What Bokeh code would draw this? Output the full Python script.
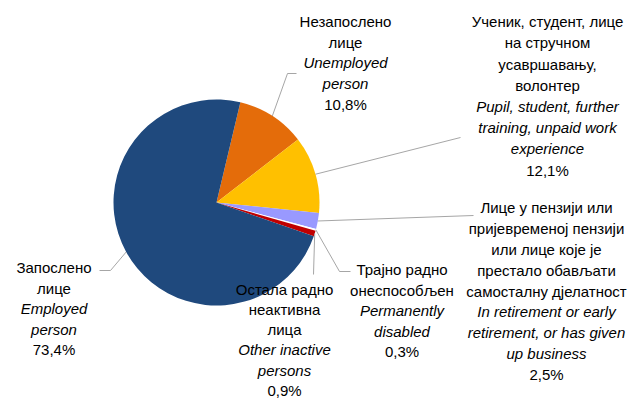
import math
from bokeh.plotting import figure
from bokeh.models import Range1d
from bokeh.core.properties import value
from bokeh.embed import file_html
from bokeh.resources import INLINE

# ---------------- data ----------------
categories_sr = [
    ["Незапослено", "лице"],
    ["Ученик, студент, лице", "на стручном", "усавршавању,", "волонтер"],
    ["Лице у пензији или", "пријевременој пензији", "или лице које је",
     "престало обављати", "самосталну дјелатност"],
    ["Трајно радно", "онеспособљен"],
    ["Остала радно", "неактивна", "лица"],
    ["Запослено", "лице"],
]
categories_en = [
    ["Unemployed", "person"],
    ["Pupil, student, further", "training, unpaid work", "experience"],
    ["In retirement or early", "retirement, or has given", "up business"],
    ["Permanently", "disabled"],
    ["Other inactive", "persons"],
    ["Employed", "person"],
]
shares = [10.8, 12.1, 2.5, 0.3, 0.9, 73.4]
pct_labels = ["10,8%", "12,1%", "2,5%", "0,3%", "0,9%", "73,4%"]
colors = ["#E46C0A", "#FFC000", "#9999FF", "#FFFFFF", "#C00000", "#1F497D"]

# ---------------- layout (reference pixel coords) ----------------
W, H = 641, 408
M = 8
PW, PH = W - M, H - M     # figure size
CX, CY, R = 216, 202, 103
START_DEG = 13.4          # first slice starts this many degrees clockwise from 12 o'clock
FONT = "Liberation Sans"
FS = "15px"
BASE_SHIFT = -6.0         # renderer places alphabetic baseline a bit low
label_anchor = [(345, 27.0), (547, 27.2), (546, 213.4), (401.5, 275.0), (284, 294.5), (53.5, 273.4)]
label_line_h = [20.7, 21.2, 20.8, 20.5, 20.3, 20.5]
leader_pts = [
    [(287, 73), (296, 73)],
    [(460, 137)],
    [(473, 215)],
    [(339, 271), (350, 271)],
    [(313, 274)],
    [(110, 270), (99, 270)],
]


def Y(py):
    return H - py


p = figure(width=PW, height=PH, output_backend="svg",
           toolbar_location=None, min_border=0,
           x_range=Range1d(0, PW), y_range=Range1d(H - PH, H))
p.xaxis.visible = False
p.yaxis.visible = False
p.grid.visible = False
p.outline_line_color = None
p.background_fill_color = "white"
p.border_fill_color = "white"

total = sum(shares)
theta = START_DEG
starts, ends, mids = [], [], []
for s in shares:
    d = s / total * 360.0
    starts.append(math.radians(90 - theta))
    ends.append(math.radians(90 - (theta + d)))
    mids.append(theta + d / 2)
    theta += d

p.wedge(x=CX, y=Y(CY), radius=R, start_angle=starts, end_angle=ends,
        direction="clock", fill_color=colors, line_color=None)

# leader lines
for i, m in enumerate(mids):
    ex = CX + R * math.sin(math.radians(m))
    ey = CY - R * math.cos(math.radians(m))
    xs = [ex] + [q[0] for q in leader_pts[i]]
    ys = [Y(ey)] + [Y(q[1]) for q in leader_pts[i]]
    p.line(xs, ys, line_color="#A6A6A6", line_width=1)

# labels
for i in range(len(shares)):
    ax, ay = label_anchor[i]
    lh = label_line_h[i]
    lines = [(t, "normal") for t in categories_sr[i]] + \
            [(t, "italic") for t in categories_en[i]] + [(pct_labels[i], "normal")]
    for k, (t, st) in enumerate(lines):
        p.text(x=[ax], y=[Y(ay + k * lh + BASE_SHIFT)], text=[t],
               text_font=value(FONT), text_font_size=FS, text_font_style=st,
               text_align="center", text_baseline="alphabetic", text_color="black")

open("out.html", "w").write(file_html(p, INLINE))
